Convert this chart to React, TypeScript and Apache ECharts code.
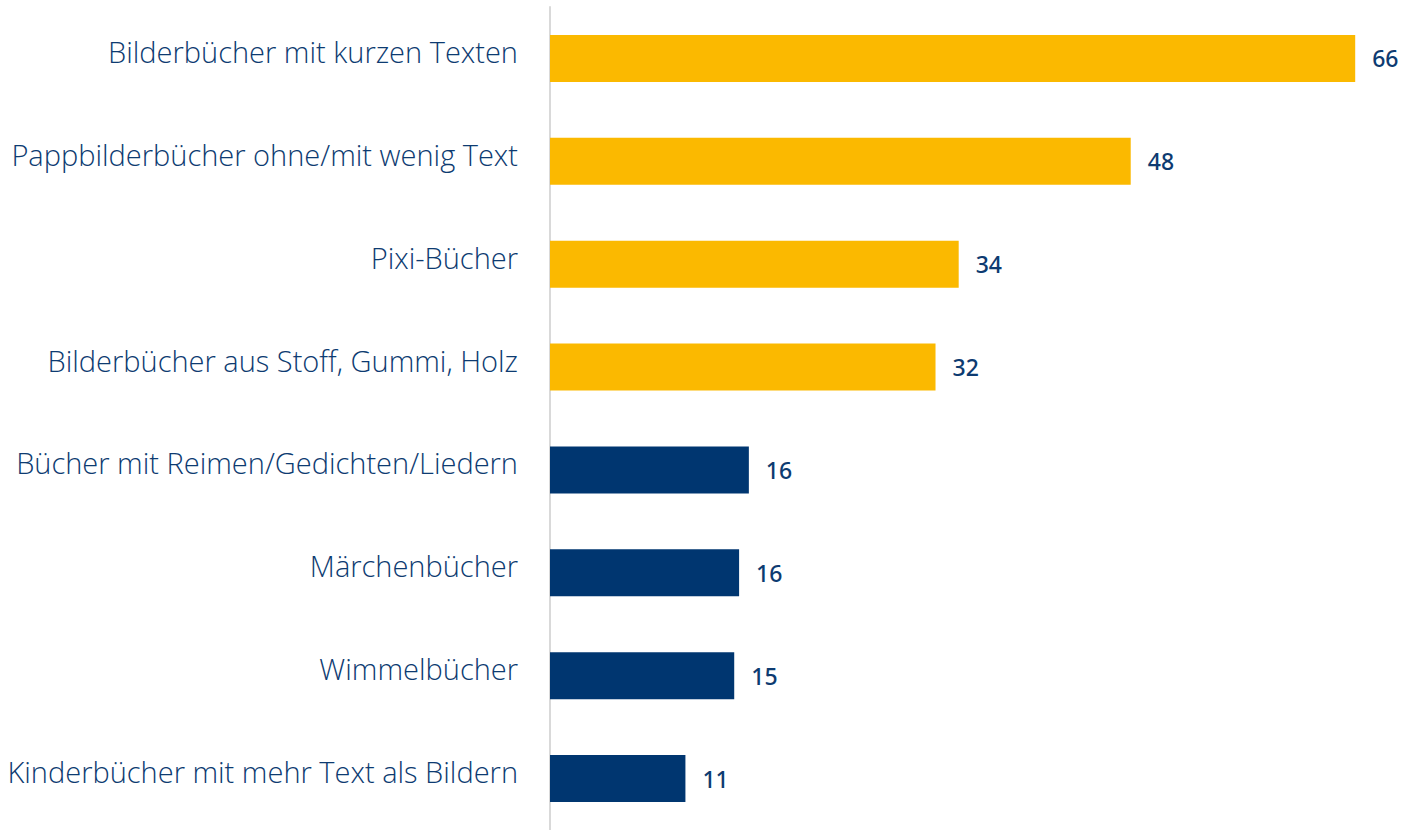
import React, { useEffect, useRef } from "react";
import * as echarts from "echarts";

const categories = [
  "Bilderbücher mit kurzen Texten",
  "Pappbilderbücher ohne/mit wenig Text",
  "Pixi-Bücher",
  "Bilderbücher aus Stoff, Gummi, Holz",
  "Bücher mit Reimen/Gedichten/Liedern",
  "Märchenbücher",
  "Wimmelbücher",
  "Kinderbücher mit mehr Text als Bildern",
];
const values = [66, 47.6, 33.5, 31.6, 16.3, 15.5, 15.1, 11.1];
const highlighted = [true, true, true, true, false, false, false, false];

const YELLOW = "#fbb900";
const NAVY = "#003670";
const TEXT = "#0d3b71";

export default function App() {
  const ref = useRef<HTMLDivElement>(null);
  useEffect(() => {
    const chart = echarts.init(ref.current!, null, { renderer: "svg" });
    chart.setOption({
      animation: false,
      grid: { left: 550, right: 0, top: 7, bottom: -4, containLabel: false },
      xAxis: {
        type: "value",
        min: 0,
        max: 70,
        show: false,
      },
      yAxis: {
        type: "category",
        inverse: true,
        data: categories,
        axisLine: { show: true, lineStyle: { color: "#d9d9d9", width: 2 } },
        axisTick: { show: false },
        axisLabel: {
          color: TEXT,
          fontFamily: "Open Sans",
          fontWeight: 300,
          fontSize: 29,
          margin: 32,
          verticalAlign: "bottom",
          lineHeight: 14,
        },
      },
      series: [
        {
          type: "bar",
          data: values.map((v, i) => ({
            value: v,
            itemStyle: { color: highlighted[i] ? YELLOW : NAVY },
          })),
          barWidth: 47,
          label: {
            show: true,
            position: "right",
            distance: 17,
            color: TEXT,
            fontFamily: "Noto Sans",
            fontSize: 23,
            fontWeight: 500,
            formatter: (p: any) => String(Math.round(p.value)),
          },
        },
      ],
    });
    return () => chart.dispose();
  }, []);
  return (
    <div
      ref={ref}
      style={{ position: "fixed", left: 0, top: 0, width: 1404, height: 830, background: "#fff" }}
    />
  );
}
